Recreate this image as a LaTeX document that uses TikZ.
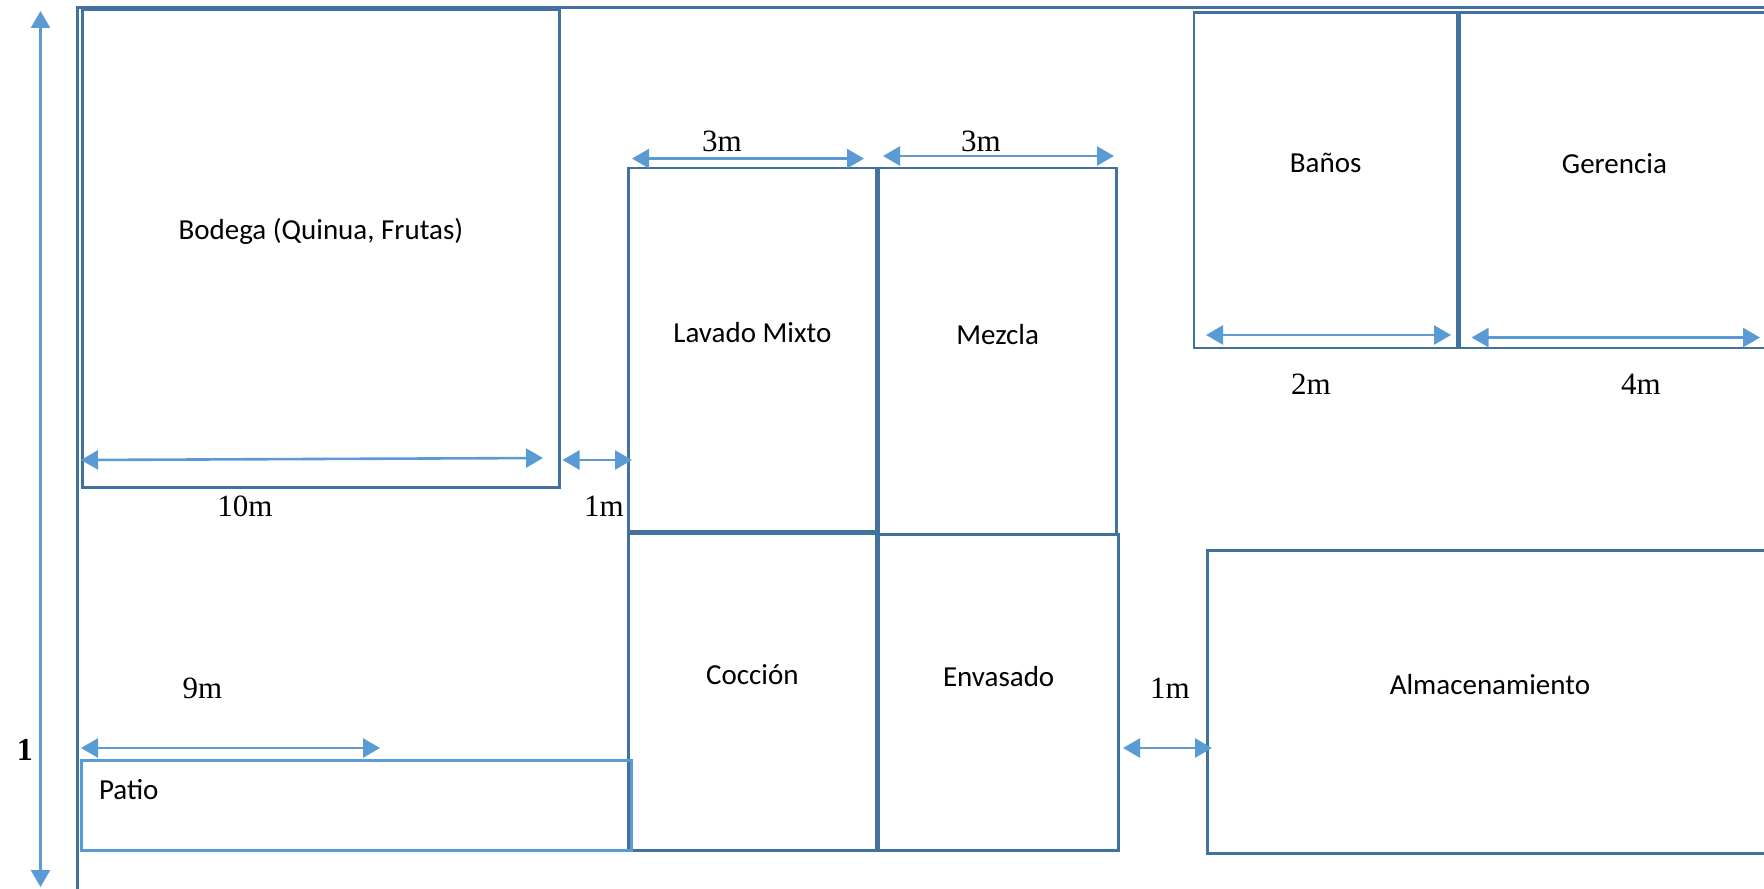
\documentclass[tikz,border=0pt]{standalone}
\usepackage{fontspec}
\setmainfont{Liberation Serif}
\newfontfamily\roomfont{Carlito}
\usepackage{xcolor}
\usetikzlibrary{arrows.meta}
\definecolor{wall}{HTML}{41719C}
\definecolor{dim}{HTML}{5B9BD5}
\tikzset{
  room/.style={draw=wall, line width=1.4pt, inner sep=0pt, anchor=north west},
  roomlabel/.style={font=\roomfont\fontsize{14.5}{17}\selectfont},
  measure/.style={dim, line width=1.3pt, {Triangle[length=8.5pt,width=9.5pt]}-{Triangle[length=8.5pt,width=9.5pt]}},
  measurelabel/.style={font=\fontsize{15.5}{18}\selectfont}
}

\begin{document}
\begin{tikzpicture}[x=0.5pt, y=-0.5pt]
        \useasboundingbox (0,0) rectangle (1764,888);
        \clip (0,0) rectangle (1764,888);

        \draw[wall, line width=1.4pt] (77.6,900) -- (77.6,7.9) -- (1800,7.9);

        \node[room, minimum width=238.5pt, minimum height=239pt] (bodega) at (81,8) {};
        \node[room, minimum width=124pt, minimum height=181.75pt] (lavado) at (627,166.5) {};
        \node[room, minimum width=118.75pt, minimum height=183.25pt] (mezcla) at (877.5,166.5) {};
        \node[room, minimum width=124pt, minimum height=159.5pt] (coccion) at (627,530) {};
        \node[room, minimum width=119.75pt, minimum height=158pt] (envasado) at (877.5,533) {};
        \node[room, draw=dim, minimum width=275pt, minimum height=45pt] (patio) at (80,759) {};
        \node[room, minimum width=131.75pt, minimum height=167.75pt] (banos) at (1192.5,11) {};
        \node[room, minimum width=155pt, minimum height=167.75pt] (gerencia) at (1458,11) {};
        \node[room, minimum width=282.5pt, minimum height=151.5pt] (almacen) at (1206,549) {};
        \draw[wall, line width=2.2pt] (lavado.south west) -- (lavado.south east);

        \node[roomlabel] at ([yshift=8.5pt]bodega.center) {Bodega (Quinua, Frutas)};
        \node[roomlabel] at ([yshift=8.5pt]lavado.center) {Lavado Mixto};
        \node[roomlabel] at ([yshift=8.5pt]mezcla.center) {Mezcla};
        \node[roomlabel] at ([yshift=8pt]coccion.center) {Cocción};
        \node[roomlabel] at ([yshift=8pt]envasado.center) {Envasado};
        \node[roomlabel, anchor=west] at ([xshift=6pt, yshift=8pt]patio.west) {Patio};
        \node[roomlabel] at ([yshift=8.5pt]banos.center) {Baños};
        \node[roomlabel] at ([yshift=8.5pt]gerencia.center) {Gerencia};
        \node[roomlabel] at ([yshift=8.5pt]almacen.center) {Almacenamiento};

        \coordinate (top) at (40.5,11);
        \coordinate (bottom) at (40.5,887);
        \draw[measure] (top) -- (bottom);
        \node[font=\bfseries\fontsize{16}{19}\selectfont] (height) at (24.75,750) {1};

        \coordinate (b10l) at (81,460);
        \coordinate (b10r) at (543,458);
        \draw[measure] (b10l) -- (b10r);
        \node[measurelabel] at (245,506) {10m};

        \coordinate (g1l) at (562.5,460);
        \coordinate (g1r) at (632,460);
        \draw[measure] (g1l) -- (g1r);
        \node[measurelabel] at (604,506) {1m};

        \coordinate (l3l) at (632,158.6);
        \coordinate (l3r) at (864,158.6);
        \draw[measure] (l3l) -- (l3r);
        \node[measurelabel] at (722,141) {3m};

        \coordinate (m3l) at (883,156);
        \coordinate (m3r) at (1114,156);
        \draw[measure] (m3l) -- (m3r);
        \node[measurelabel] at (981,141) {3m};

        \coordinate (b2l) at (1206,335);
        \coordinate (b2r) at (1451,335);
        \draw[measure] (b2l) -- (b2r);
        \node[measurelabel] at (1311,384) {2m};

        \coordinate (g4l) at (1471.5,337.5);
        \coordinate (g4r) at (1760,337.5);
        \draw[measure] (g4l) -- (g4r);
        \node[measurelabel] at (1641,384) {4m};

        \coordinate (p9l) at (81,748);
        \coordinate (p9r) at (380,748);
        \draw[measure] (p9l) -- (p9r);
        \node[measurelabel] at (202.5,688.5) {9m};

        \coordinate (a1l) at (1123,748);
        \coordinate (a1r) at (1212,748);
        \draw[measure] (a1l) -- (a1r);
        \node[measurelabel] at (1170,688.5) {1m};

    \end{tikzpicture}
\end{document}
